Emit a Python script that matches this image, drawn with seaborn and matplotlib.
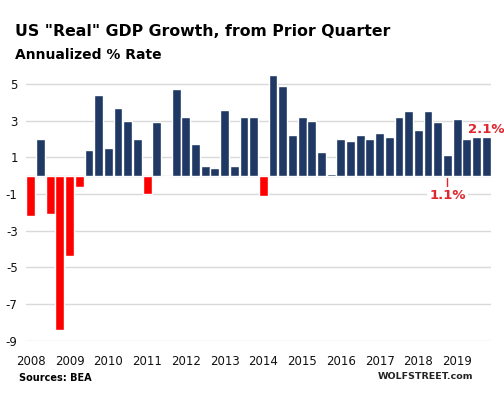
import numpy as np
import pandas as pd
import matplotlib.pyplot as plt
import seaborn as sns

# quarterly real GDP growth, annualized %, 2008Q1 .. 2019Q4
years = list(range(2008, 2020))
gdp_growth = [
    -2.2, 2.0, -2.1, -8.4,
    -4.4, -0.6, 1.4, 4.4,
    1.5, 3.7, 3.0, 2.0,
    -1.0, 2.9, -0.1, 4.7,
    3.2, 1.7, 0.5, 0.4,
    3.6, 0.5, 3.2, 3.2,
    -1.1, 5.5, 4.9, 2.2,
    3.2, 3.0, 1.3, 0.1,
    2.0, 1.9, 2.2, 2.0,
    2.3, 2.1, 3.2, 3.5,
    2.5, 3.5, 2.9, 1.1,
    3.1, 2.0, 2.1, 2.1,
]
quarters = [f"{y}Q{q}" for y in years for q in range(1, 5)]

df = pd.DataFrame({"quarter": quarters, "growth": gdp_growth})
df["sign"] = np.where(df["growth"] < 0, "neg", "pos")

navy = "#1f3864"
red_bar = "#ff0000"
red_txt = "#e0262e"

sns.set_style("white")
plt.rcParams["font.family"] = ["DejaVu Sans"]
plt.rcParams["axes.unicode_minus"] = False
plt.rcParams["text.color"] = "black"

fig = plt.figure(figsize=(5.04, 3.93), dpi=100)
ax = fig.add_axes([0.0516, 0.133, 0.9226, 0.7004])

sns.barplot(data=df, x="quarter", y="growth", hue="sign",
            palette={"pos": navy, "neg": red_bar}, dodge=False,
            width=0.92, legend=False, ax=ax, saturation=1)

ax.set_ylim(-9, 6)
ax.set_xlim(-0.5, len(df) - 0.5)
ax.set_yticks(range(-9, 6, 2))
ax.set_xticks(range(0, len(df), 4))
ax.set_xticklabels([str(y) for y in years])
ax.tick_params(axis="both", length=0, labelsize=8.5, colors="#111111")
ax.tick_params(axis="y", pad=6)
ax.tick_params(axis="x", pad=10)
ax.set_xlabel("")
ax.set_ylabel("")
for s in ax.spines.values():
    s.set_visible(False)
ax.yaxis.grid(True, color="#d9d9d9", lw=1)
ax.set_axisbelow(True)
ax.axhline(0, color="#d0d0d0", lw=1, zorder=0.5)

# annotations
last = len(df) - 1
ax.text(last, gdp_growth[last] + 0.4, f"{gdp_growth[last]}%", color=red_txt,
        fontsize=9.5, fontweight="bold", ha="center", va="center", clip_on=False)
low = quarters.index("2018Q4")
ax.plot([low, low], [-0.15, -0.6], color=red_txt, lw=1)
ax.text(low, -1.1, f"{gdp_growth[low]}%", color=red_txt, fontsize=9.5,
        fontweight="bold", ha="center", va="center",
        bbox=dict(facecolor="white", edgecolor="none", pad=1.5))

fig.text(0.03, 0.921, 'US "Real" GDP Growth, from Prior Quarter',
         fontsize=11.3, fontweight="bold", va="center")
fig.text(0.03, 0.860, "Annualized % Rate", fontsize=10,
         fontweight="bold", va="center")
fig.text(0.038, 0.038, "Sources: BEA", fontsize=7, fontweight="bold",
         va="center")
fig.text(0.75, 0.043, "WOLFSTREET.com", fontsize=6.8, fontweight="bold",
         va="center", color="#222222")

fig.savefig("out.png", dpi=100)
